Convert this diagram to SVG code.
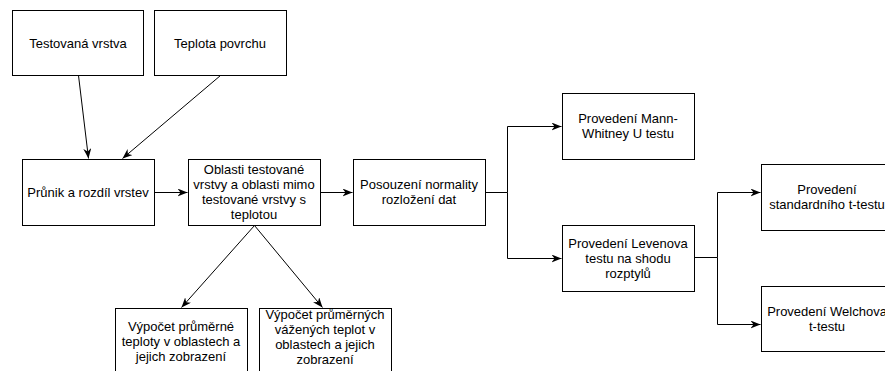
<svg xmlns="http://www.w3.org/2000/svg" width="885" height="371" viewBox="0 0 885 371">
<style>
  .box { fill: #ffffff; stroke: #000000; stroke-width: 1; }
  .lbl { font-family: "Liberation Sans", Arial, Helvetica, sans-serif; font-size: 13px; fill: #000000; text-anchor: middle; }
  .edge { fill: none; stroke: #000000; stroke-width: 1; marker-end: url(#arr); }
</style>
<defs>
  <marker id="arr" viewBox="0 0 10 8" refX="10" refY="4" markerWidth="10" markerHeight="8" markerUnits="userSpaceOnUse" orient="auto">
    <path d="M0,0 L10,4 L0,8 L3,4 Z" fill="#000000"/>
  </marker>
</defs>
<rect x="0" y="0" width="885" height="371" fill="#ffffff"/>

<g id="connectors">
  <path class="edge" d="M78.5,75.5 L88.5,158.5"/>
  <path class="edge" d="M220.5,75.5 L122.5,158.5"/>
  <path class="edge" d="M154.5,192.5 L187.5,192.5"/>
  <path class="edge" d="M320.5,192.5 L352.5,192.5"/>
  <path class="edge" d="M485.5,192.5 L507.5,192.5 L507.5,126.5 L561.5,126.5"/>
  <path class="edge" d="M507.5,192.5 L507.5,258.5 L561.5,258.5"/>
  <path class="edge" d="M694.5,257.5 L717.5,257.5 L717.5,192.5 L760.5,192.5"/>
  <path class="edge" d="M717.5,257.5 L717.5,324.5 L760.5,324.5"/>
  <path class="edge" d="M254.5,225.5 L181.5,307.5"/>
  <path class="edge" d="M254.5,225.5 L322.5,307.5"/>
</g>

<g id="testovana-vrstva">
  <rect class="box" x="12.5" y="10.5" width="131" height="65"/>
  <text class="lbl" x="78" y="47.5">Testovaná vrstva</text>
</g>
<g id="teplota-povrchu">
  <rect class="box" x="154.5" y="10.5" width="132" height="65"/>
  <text class="lbl" x="220" y="47.5">Teplota povrchu</text>
</g>
<g id="prunik">
  <rect class="box" x="22.5" y="159.5" width="132" height="66"/>
  <text class="lbl" x="88" y="196.5">Průnik a rozdíl vrstev</text>
</g>
<g id="oblasti">
  <rect class="box" x="188.5" y="159.5" width="132" height="66"/>
  <text class="lbl" x="254" y="174">Oblasti testované</text>
  <text class="lbl" x="254" y="189">vrstvy a oblasti mimo</text>
  <text class="lbl" x="254" y="204">testované vrstvy s</text>
  <text class="lbl" x="254" y="219">teplotou</text>
</g>
<g id="posouzeni">
  <rect class="box" x="353.5" y="159.5" width="132" height="66"/>
  <text class="lbl" x="419" y="189">Posouzení normality</text>
  <text class="lbl" x="419" y="204">rozložení dat</text>
</g>
<g id="mann-whitney">
  <rect class="box" x="562.5" y="93.5" width="132" height="66"/>
  <text class="lbl" x="628" y="123">Provedení Mann-</text>
  <text class="lbl" x="628" y="138">Whitney U testu</text>
</g>
<g id="levene">
  <rect class="box" x="562.5" y="225.5" width="132" height="66"/>
  <text class="lbl" x="628" y="247.5">Provedení Levenova</text>
  <text class="lbl" x="628" y="262.5">testu na shodu</text>
  <text class="lbl" x="628" y="277.5">rozptylů</text>
</g>
<g id="standardni-t-test">
  <rect class="box" x="761.5" y="164.5" width="132" height="66"/>
  <text class="lbl" x="827" y="194">Provedení</text>
  <text class="lbl" x="827" y="209">standardního t-testu</text>
</g>
<g id="welch">
  <rect class="box" x="761.5" y="286.5" width="132" height="65"/>
  <text class="lbl" x="827" y="316">Provedení Welchova</text>
  <text class="lbl" x="827" y="331">t-testu</text>
</g>
<g id="vypocet-prumerne">
  <rect class="box" x="115.5" y="308.5" width="132" height="66"/>
  <text class="lbl" x="181" y="330.5">Výpočet průměrné</text>
  <text class="lbl" x="181" y="345.5">teploty v oblastech a</text>
  <text class="lbl" x="181" y="360.5">jejich zobrazení</text>
</g>
<g id="vypocet-vazenych">
  <rect class="box" x="259.5" y="308.5" width="132" height="66"/>
  <text class="lbl" x="325" y="318.5">Výpočet průměrných</text>
  <text class="lbl" x="325" y="333.5">vážených teplot v</text>
  <text class="lbl" x="325" y="348.5">oblastech a jejich</text>
  <text class="lbl" x="325" y="363.5">zobrazení</text>
</g>
</svg>
